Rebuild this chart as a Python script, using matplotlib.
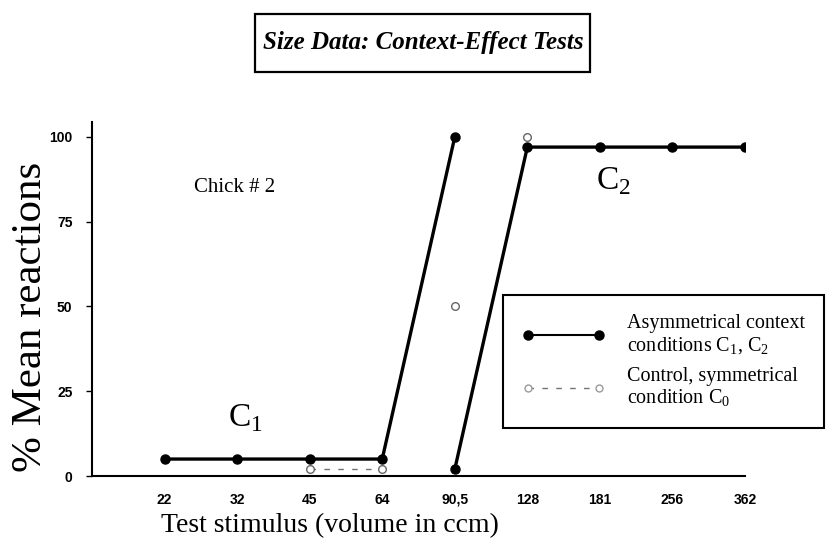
import matplotlib
matplotlib.use("Agg")
from matplotlib import pyplot as plt
from matplotlib.patches import Rectangle

plt.rcParams['font.family'] = ['Liberation Serif', 'DejaVu Serif']
plt.rcParams['mathtext.fontset'] = 'custom'
plt.rcParams['mathtext.rm'] = 'Liberation Serif'

# test stimulus categories (volume in ccm)
stimuli = ['22', '32', '45', '64', '90,5', '128', '181', '256', '362']

# asymmetrical context condition C1 (stimuli 22 .. 90,5)
c1_idx = [0, 1, 2, 3, 4]
c1_vals = [5, 5, 5, 5, 100]

# asymmetrical context condition C2 (stimuli 90,5 .. 362)
c2_idx = [4, 5, 6, 7, 8]
c2_vals = [2, 97, 97, 97, 97]

# control, symmetrical condition C0
c0_idx = [2, 3, 4, 5]
c0_vals = [2, 2, 50, 100]

yticks = [0, 25, 50, 75, 100]

fig = plt.figure(figsize=(8.4, 5.56), dpi=100)
ax = fig.add_axes([92 / 840, 1 - 476 / 556, 653 / 840, 354 / 556])

ax.plot(c1_idx, c1_vals, color='black', lw=2.4, marker='o', ms=6.5, zorder=3)
ax.plot(c2_idx, c2_vals, color='black', lw=2.4, marker='o', ms=6.5, zorder=3)
ax.plot(c0_idx[:2], c0_vals[:2], color='0.45', lw=1, ls=(0, (4, 6)), zorder=2)
ax.plot(c0_idx, c0_vals, ls='none', marker='o', ms=5.5, mfc='white', mec='0.4',
        mew=1, zorder=4)

ax.set_xlim(-1, 8)
ax.set_ylim(0, 104.4)
ax.set_xticks(range(len(stimuli)))
ax.set_xticklabels(stimuli)
ax.set_yticks(yticks)
for lab in ax.get_xticklabels() + ax.get_yticklabels():
    lab.set_family('Liberation Sans')
    lab.set_weight('bold')
    lab.set_fontsize(10)
ax.tick_params(axis='x', length=0, pad=12)
ax.tick_params(axis='y', length=4, width=1, pad=10)
ax.spines['top'].set_visible(False)
ax.spines['right'].set_visible(False)
ax.spines['left'].set_linewidth(1.5)
ax.spines['bottom'].set_linewidth(1.5)

ax.set_ylabel('% Mean reactions', fontsize=31)
ax.yaxis.set_label_coords(-0.064, 0.45)
ax.set_xlabel('Test stimulus (volume in ccm)', fontsize=20)
ax.xaxis.set_label_coords(0.364, -0.105)

ax.text(0.41, 85, 'Chick # 2', fontsize=15, va='center')
ax.text(0.88, 17, r'C$_{\mathrm{1}}$', fontsize=24, va='center')
ax.text(5.95, 87, r'C$_{\mathrm{2}}$', fontsize=24, va='center')

# boxed title
fig.patches.append(Rectangle((255 / 840, 1 - 72 / 556), 335 / 840, 58 / 556,
                             transform=fig.transFigure, fill=False,
                             ec='black', lw=1.6))
fig.text(423 / 840, 1 - 43 / 556, 'Size Data: Context-Effect Tests',
         fontsize=18, weight='bold', style='italic', ha='center', va='center')

h1, = ax.plot([], [], color='black', lw=1.5, marker='o', ms=6.5)
h0, = ax.plot([], [], color='0.45', lw=1, ls=(0, (4, 6)), marker='o', ms=5,
              mfc='white', mec='0.6')
leg = ax.legend([h1, h0],
                ['Asymmetrical context\nconditions C$_{\\mathrm{1}}$, C$_{\\mathrm{2}}$',
                 'Control, symmetrical\ncondition C$_{\\mathrm{0}}$'],
                loc='upper left', bbox_to_anchor=(503 / 840, 1 - 295 / 556),
                bbox_transform=fig.transFigure, borderaxespad=0,
                fontsize=14.5, numpoints=2, handlelength=4.1,
                handletextpad=1.1, borderpad=0.95, labelspacing=0.55,
                fancybox=False, framealpha=1, edgecolor='black')
leg.get_frame().set_linewidth(1.5)
for t in leg.get_texts():
    t.set_linespacing(1.1)

fig.savefig('out.png', dpi=100)
